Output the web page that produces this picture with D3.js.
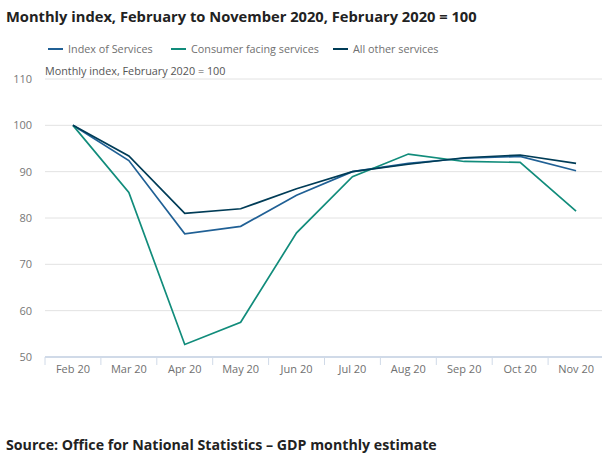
<!DOCTYPE html>
<html lang="en">
  <head>
    <meta charset="UTF-8" />
    <title>Monthly index</title>
    <style>
      body { margin: 0; background: #fff; font-family: "Open Sans", sans-serif; }
    </style>
  </head>
  <body>
    <div id="chart"></div>
    <script src="https://cdn.jsdelivr.net/npm/d3@7"></script>
    <script>
      const months = ["Feb 20", "Mar 20", "Apr 20", "May 20", "Jun 20", "Jul 20", "Aug 20", "Sep 20", "Oct 20", "Nov 20"];
      const indexOfServices = [100, 92.4, 76.6, 78.2, 84.9, 90.0, 91.8, 92.9, 93.3, 90.2];
      const consumerFacing = [100, 85.5, 52.7, 57.5, 76.8, 88.9, 93.8, 92.2, 92.0, 81.5];
      const allOther = [100, 93.4, 81.0, 82.0, 86.3, 90.0, 91.6, 93.0, 93.6, 91.8];
      const yTicks = [50, 60, 70, 80, 90, 100, 110];

      const series = [
        { name: "Index of Services", values: indexOfServices, color: "#206095" },
        { name: "Consumer facing services", values: consumerFacing, color: "#118c7b" },
        { name: "All other services", values: allOther, color: "#003c57" }
      ];

      const width = 602, height = 460;
      const svg = d3.select("#chart").append("svg")
        .attr("width", width).attr("height", height);

      const x = d3.scaleBand().domain(months).range([45, 604]);
      const y = d3.scaleLinear().domain([50, 110]).range([357, 79]);

      // title
      svg.append("text")
        .attr("x", 6).attr("y", 22)
        .attr("font-size", 14.7).attr("font-weight", "bold").attr("fill", "#222")
        .text("Monthly index, February to November 2020, February 2020 = 100");

      // legend
      const legendX = [48, 171, 333];
      series.forEach((s, i) => {
        const lg = svg.append("g").attr("transform", `translate(${legendX[i]},49)`);
        lg.append("line").attr("x1", 0).attr("x2", 15).attr("y1", 0).attr("y2", 0)
          .attr("stroke", s.color).attr("stroke-width", 2);
        lg.append("text").attr("x", 20).attr("y", 4)
          .attr("font-size", 10.8).attr("fill", "#707070").text(s.name);
      });

      // y axis title
      svg.append("text")
        .attr("x", 45).attr("y", 75)
        .attr("font-size", 10.8).attr("fill", "#555")
        .text("Monthly index, February 2020 = 100");

      // gridlines + y labels
      const gy = svg.append("g");
      gy.selectAll("line").data(yTicks.filter(d => d > 50)).join("line")
        .attr("x1", 45).attr("x2", width)
        .attr("y1", d => y(d)).attr("y2", d => y(d))
        .attr("stroke", "#e2e2e2").attr("stroke-width", 1);
      gy.selectAll("text").data(yTicks).join("text")
        .attr("x", 32).attr("y", d => y(d) + 4)
        .attr("text-anchor", "end").attr("font-size", 11).attr("fill", "#777")
        .text(d => d);

      // x axis
      const xAxis = d3.axisBottom(x).tickSize(0).tickPadding(8);
      const gx = svg.append("g").attr("transform", `translate(0,${y(50)})`).call(xAxis);
      gx.select(".domain").attr("stroke", "#d0dae8").attr("stroke-width", 2)
        .attr("d", `M45,0H${width}`);
      gx.selectAll("text").attr("font-size", 11).attr("fill", "#707070")
        .attr("font-family", "Open Sans, sans-serif");
      gx.selectAll(".sep").data(months).join("line").attr("class", "sep")
        .attr("x1", d => x(d)).attr("x2", d => x(d))
        .attr("y1", 0).attr("y2", 8)
        .attr("stroke", "#d0dae8").attr("stroke-width", 1);

      // lines
      const line = d3.line()
        .x((d, i) => x(months[i]) + x.bandwidth() / 2)
        .y(d => y(d));
      series.forEach(s => {
        svg.append("path").datum(s.values)
          .attr("fill", "none").attr("stroke", s.color).attr("stroke-width", 1.7)
          .attr("d", line);
      });

      // source
      svg.append("text")
        .attr("x", 6).attr("y", 450)
        .attr("font-size", 14.2).attr("font-weight", "bold").attr("fill", "#222")
        .text("Source: Office for National Statistics – GDP monthly estimate");
    </script>
  </body>
</html>
